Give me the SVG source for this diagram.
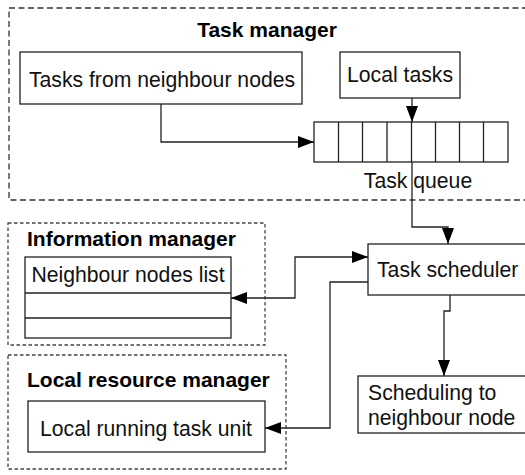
<svg xmlns="http://www.w3.org/2000/svg" width="525" height="475" viewBox="0 0 525 475">
<defs>
<marker id="arr" viewBox="0 0 16 12" refX="16" refY="6" markerWidth="16" markerHeight="12" markerUnits="userSpaceOnUse" orient="auto-start-reverse">
<path d="M0,0 L16,6 L0,12 Z" fill="#000"/>
</marker>
<style>
.box{fill:#fff;stroke:#222;stroke-width:1.3}
.grp{fill:none;stroke:#333;stroke-width:1.3;stroke-dasharray:6 3.5}
.grp2{fill:none;stroke:#444;stroke-width:1.3;stroke-dasharray:3.5 2.5}
.t{font-family:"Liberation Sans",Arial,sans-serif;font-size:21.2px;fill:#111}
.b{font-family:"Liberation Sans",Arial,sans-serif;font-size:21px;font-weight:bold;fill:#000}
.c{fill:none;stroke:#222;stroke-width:1.3}
</style>
</defs>
<rect width="525" height="475" fill="#fff"/>
<g id="task-manager">
<rect class="grp" x="9" y="8" width="530" height="192"/>
<text class="b" x="267" y="37" text-anchor="middle">Task manager</text>
</g>
<g id="tasks-from-neighbour">
<rect class="box" x="20" y="52" width="282" height="52"/>
<text class="t" x="162" y="87" text-anchor="middle">Tasks from neighbour nodes</text>
</g>
<g id="local-tasks">
<rect class="box" x="340" y="52" width="120" height="46"/>
<text class="t" x="400" y="82" text-anchor="middle">Local tasks</text>
</g>
<g id="task-queue">
<rect class="box" x="314" y="122" width="194" height="40"/>
<path class="c" d="M338.5,122V162M362.5,122V162M387,122V162M411.5,122V162M435.5,122V162M459.5,122V162M483.5,122V162"/>
<text class="t" x="418" y="188" text-anchor="middle">Task queue</text>
</g>
<g id="information-manager">
<rect class="grp2" x="8" y="223" width="257" height="122"/>
<text class="b" x="27" y="246">Information manager</text>
</g>
<g id="neighbour-nodes-list">
<rect class="box" x="25" y="257" width="206" height="81"/>
<path class="c" d="M25,293H231M25,318H231"/>
<text class="t" x="128" y="282" text-anchor="middle">Neighbour nodes list</text>
</g>
<g id="local-resource-manager">
<rect class="grp2" x="8" y="355" width="278" height="114"/>
<text class="b" x="27" y="387">Local resource manager</text>
</g>
<g id="local-running-task-unit">
<rect class="box" x="28" y="401" width="237" height="51"/>
<text class="t" x="146" y="436" text-anchor="middle">Local running task unit</text>
</g>
<g id="task-scheduler">
<rect class="box" x="368" y="244" width="170" height="51"/>
<text class="t" x="377" y="277">Task scheduler</text>
</g>
<g id="scheduling-to-neighbour">
<rect class="box" x="358" y="376" width="180" height="57"/>
<text class="t" x="368" y="400">Scheduling to</text>
<text class="t" x="368" y="425">neighbour node</text>
</g>
<g id="connectors">
<path class="c" d="M161,104V142H314" marker-end="url(#arr)"/>
<path class="c" d="M412,98V122" marker-end="url(#arr)"/>
<path class="c" d="M412,162V227H448V244" marker-end="url(#arr)"/>
<path class="c" d="M231,298H295V257H368" marker-start="url(#arr)" marker-end="url(#arr)"/>
<path class="c" d="M368,282H330V428H265" marker-end="url(#arr)"/>
<path class="c" d="M450,295V311H444V376" marker-end="url(#arr)"/>
</g>
</svg>
